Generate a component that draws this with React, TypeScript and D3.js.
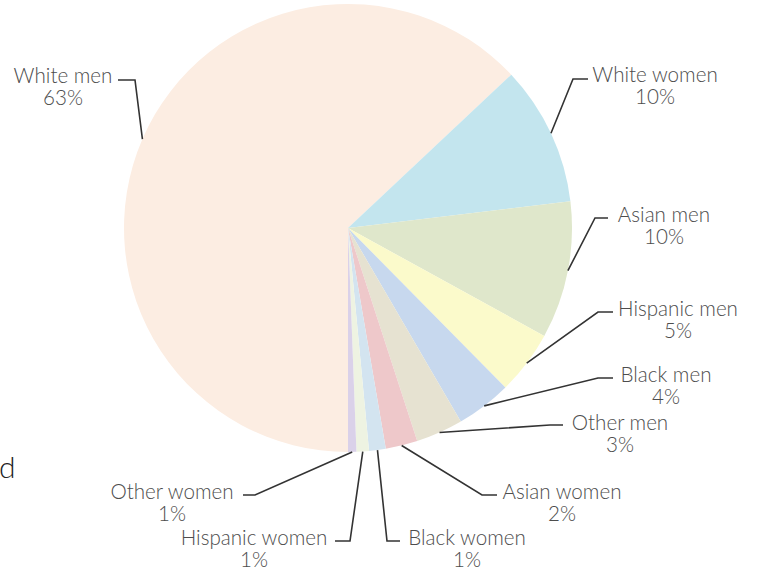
import React from "react";
import * as d3 from "d3";

const categories = [
  "White men",
  "White women",
  "Asian men",
  "Hispanic men",
  "Black men",
  "Other men",
  "Asian women",
  "Black women",
  "Hispanic women",
  "Other women",
];
const shares = [63.0, 10.1, 9.9, 4.6, 4.0, 3.4, 2.3, 1.2, 0.9, 0.6];
const percentLabels = ["63%", "10%", "10%", "5%", "4%", "3%", "2%", "1%", "1%", "1%"];
const sliceColors = [
  "#FCEDE2",
  "#C3E5EE",
  "#DFE7CB",
  "#FBFACB",
  "#C7D8EE",
  "#E6E2D1",
  "#EEC8CA",
  "#D3E4F0",
  "#EEF3E2",
  "#DAD1E9",
];

// label layout (annotation placement): text center, first baseline, elbow, end of leader
const labelLayout = [
  { tx: 63, ty: 83, elbow: [135, 80], end: [118, 80] },
  { tx: 655, ty: 82, elbow: [573, 79], end: [588, 79] },
  { tx: 664, ty: 222, elbow: [595, 218], end: [608, 218] },
  { tx: 678, ty: 316, elbow: [598, 312], end: [613, 312] },
  { tx: 666, ty: 382, elbow: [598, 378], end: [613, 378] },
  { tx: 620, ty: 430, elbow: [550, 425], end: [563, 425] },
  { tx: 562, ty: 499, elbow: [482, 495], end: [497, 495] },
  { tx: 467, ty: 545, elbow: [387, 541], end: [400, 541] },
  { tx: 254, ty: 545, elbow: [350, 541], end: [335, 541] },
  { tx: 172, ty: 499, elbow: [255, 495], end: [243, 495] },
];

const W = 758;
const H = 571;
const cx = 348;
const cy = 228;
const R = 224;

export default function App() {
  const data = categories.map((c, i) => ({ name: c, value: shares[i], i }));
  const pie = d3
    .pie<any>()
    .sort(null)
    .value((d: any) => d.value)
    .startAngle(-Math.PI)
    .endAngle(Math.PI);
  const arcs = pie(data);
  const arcGen = d3.arc<any>().innerRadius(0).outerRadius(R);
  const edgeArc = d3.arc<any>().innerRadius(R).outerRadius(R);
  const font = "Lato, 'Open Sans', sans-serif";

  return (
    <svg
      width={W}
      height={H}
      style={{ position: "absolute", left: 0, top: 0, background: "#fff" }}
    >
      <g transform={`translate(${cx},${cy})`}>
        {arcs.map((a, i) => (
          <path key={i} d={arcGen(a) as string} fill={sliceColors[i]} />
        ))}
      </g>
      {arcs.map((a, i) => {
        const [sx, sy] = edgeArc.centroid(a);
        const L = labelLayout[i];
        const pts = [
          [sx + cx, sy + cy],
          L.elbow,
          L.end,
        ];
        return (
          <g key={"l" + i}>
            <polyline
              points={pts.map((p) => p.join(",")).join(" ")}
              fill="none"
              stroke="#333"
              strokeWidth={1.6}
            />
            <text
              x={L.tx}
              y={L.ty}
              textAnchor="middle"
              fontFamily={font}
              fontWeight={300}
              fontSize={20.6}
              fill="#4d4d4d"
            >
              {categories[i]}
            </text>
            <text
              x={L.tx}
              y={L.ty + 22}
              textAnchor="middle"
              fontFamily={font}
              fontWeight={300}
              fontSize={20.6}
              fill="#4d4d4d"
            >
              {percentLabels[i]}
            </text>
          </g>
        );
      })}
      <text x={-1} y={478} fontFamily={font} fontWeight={300} fontSize={30} fill="#222">
        d
      </text>
    </svg>
  );
}
